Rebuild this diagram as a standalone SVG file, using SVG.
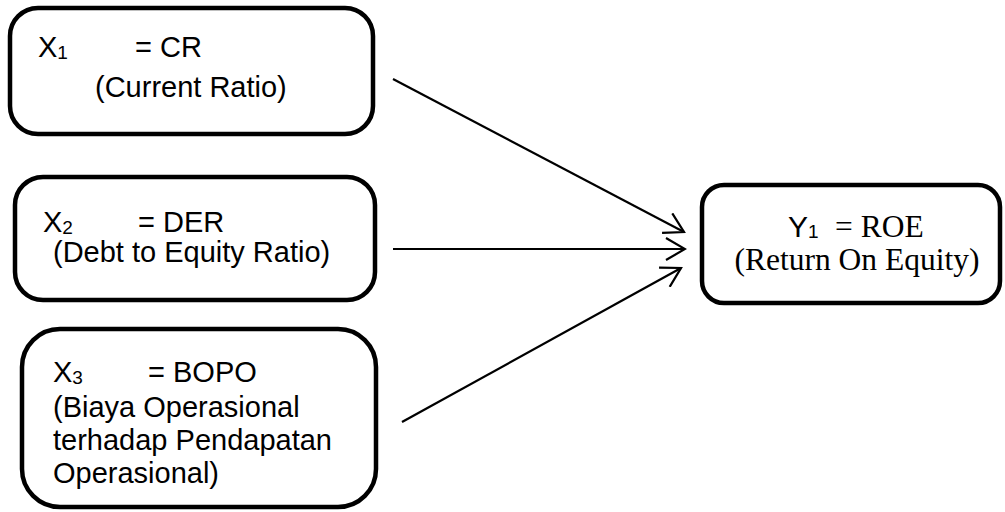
<svg xmlns="http://www.w3.org/2000/svg" width="1005" height="512" viewBox="0 0 1005 512">
<defs>
<style>
.box{fill:#fff;stroke:#000;stroke-width:4.5}
.sans{font-family:"Liberation Sans",Arial,sans-serif;font-size:29px;fill:#000}
.serif{font-family:"Liberation Serif","Times New Roman",serif;font-size:31.5px;fill:#000}
.sub{font-size:19px}
.conn{stroke:#000;stroke-width:2.2;fill:none}
</style>
<marker id="arr" viewBox="-20 -12 22 24" refX="0" refY="0" markerWidth="22" markerHeight="24" markerUnits="userSpaceOnUse" orient="auto">
<path d="M-19,-11 L0,0 L-19,11" fill="none" stroke="#000" stroke-width="2.2"/>
</marker>
</defs>
<rect width="1005" height="512" fill="#fff"/>
<g id="node-x1">
<rect class="box" x="10" y="8" width="363" height="126" rx="28" ry="28"/>
<text class="sans" x="38" y="57">X<tspan class="sub" dy="2">1</tspan><tspan x="135" dy="-2">= CR</tspan></text>
<text class="sans" x="95" y="97">(Current Ratio)</text>
</g>
<g id="node-x2">
<rect class="box" x="15" y="177" width="360" height="123" rx="28" ry="28"/>
<text class="sans" x="43" y="232">X<tspan class="sub" dy="2">2</tspan><tspan x="138" dy="-2">= DER</tspan></text>
<text class="sans" x="53" y="262">(Debt to Equity Ratio)</text>
</g>
<g id="node-x3">
<rect class="box" x="22" y="329" width="354" height="178" rx="38" ry="38"/>
<text class="sans" x="53" y="382">X<tspan class="sub" dy="2">3</tspan><tspan x="148" dy="-2">= BOPO</tspan></text>
<text class="sans" x="53" y="417">(Biaya Operasional</text>
<text class="sans" x="53" y="450">terhadap Pendapatan</text>
<text class="sans" x="53" y="483">Operasional)</text>
</g>
<g id="node-y1">
<rect class="box" x="702" y="185" width="298" height="118" rx="22" ry="22"/>
<text class="sans" x="788" y="237" style="font-size:30px">Y<tspan class="sub" dy="1">1</tspan></text>
<text class="serif" x="835" y="237">= ROE</text>
<text class="serif" x="857" y="270" text-anchor="middle">(Return On Equity)</text>
</g>
<g id="connectors">
<line class="conn" x1="393" y1="79" x2="684" y2="232" marker-end="url(#arr)"/>
<line class="conn" x1="393" y1="249" x2="685" y2="249" marker-end="url(#arr)"/>
<line class="conn" x1="402" y1="422" x2="681" y2="268" marker-end="url(#arr)"/>
</g>
</svg>
